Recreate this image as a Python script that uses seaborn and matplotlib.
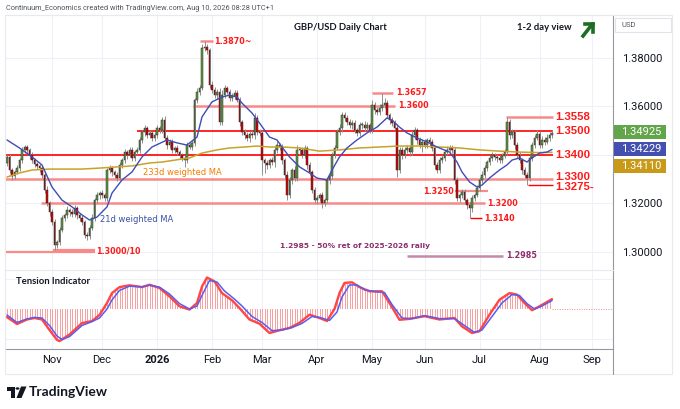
import numpy as np
import matplotlib
matplotlib.use("Agg")
import matplotlib.pyplot as plt
import seaborn as sns
from matplotlib.patches import Rectangle, Polygon, Circle
from matplotlib.lines import Line2D

# ---------------- data ----------------
first_open = 1.3365
closes = [
    1.3392, 1.3338, 1.3313, 1.3330, 1.3346, 1.3379, 1.3421, 1.3433, 1.3421, 1.3400,
    1.3379, 1.3363, 1.3355, 1.3346, 1.3318, 1.3256, 1.3202, 1.3165, 1.3124, 1.3029,
    1.3041, 1.3091, 1.3140, 1.3153, 1.3173, 1.3165, 1.3157, 1.3181, 1.3153, 1.3140,
    1.3124, 1.3070, 1.3066, 1.3099, 1.3140, 1.3214, 1.3235, 1.3243, 1.3235, 1.3223,
    1.3338, 1.3346, 1.3330, 1.3318, 1.3305, 1.3359, 1.3379, 1.3412, 1.3400, 1.3421,
    1.3388, 1.3412, 1.3421, 1.3462, 1.3495, 1.3511, 1.3482, 1.3491, 1.3470, 1.3482,
    1.3511, 1.3503, 1.3544, 1.3470, 1.3441, 1.3454, 1.3421, 1.3429, 1.3412, 1.3400,
    1.3388, 1.3379, 1.3441, 1.3433, 1.3450, 1.3627, 1.3660, 1.3676, 1.3841, 1.3845,
    1.3833, 1.3689, 1.3668, 1.3647, 1.3660, 1.3536, 1.3647, 1.3676, 1.3660, 1.3635,
    1.3643, 1.3656, 1.3627, 1.3536, 1.3495, 1.3482, 1.3470, 1.3487, 1.3482, 1.3553,
    1.3495, 1.3491, 1.3379, 1.3367, 1.3359, 1.3379, 1.3371, 1.3421, 1.3441, 1.3433,
    1.3379, 1.3318, 1.3235, 1.3297, 1.3338, 1.3305, 1.3421, 1.3421, 1.3400, 1.3429,
    1.3359, 1.3330, 1.3256, 1.3214, 1.3223, 1.3235, 1.3202, 1.3214, 1.3297, 1.3313,
    1.3400, 1.3429, 1.3495, 1.3511, 1.3565, 1.3553, 1.3536, 1.3524, 1.3532, 1.3503,
    1.3491, 1.3524, 1.3524, 1.3511, 1.3524, 1.3503, 1.3606, 1.3586, 1.3577, 1.3594,
    1.3606, 1.3614, 1.3565, 1.3544, 1.3532, 1.3511, 1.3338, 1.3421, 1.3400, 1.3421,
    1.3429, 1.3412, 1.3482, 1.3503, 1.3462, 1.3441, 1.3454, 1.3441, 1.3462, 1.3454,
    1.3429, 1.3359, 1.3338, 1.3379, 1.3388, 1.3412, 1.3421, 1.3429, 1.3421, 1.3297,
    1.3223, 1.3235, 1.3247, 1.3214, 1.3194, 1.3181, 1.3223, 1.3235, 1.3264, 1.3297,
    1.3318, 1.3346, 1.3371, 1.3388, 1.3400, 1.3392, 1.3388, 1.3379, 1.3396, 1.3412,
    1.3536, 1.3482, 1.3495, 1.3441, 1.3400, 1.3379, 1.3338, 1.3318, 1.3305, 1.3388,
    1.3441, 1.3470, 1.3487, 1.3441, 1.3462, 1.3454, 1.3470, 1.3482, 1.34925,
]
# wick lengths in pips
up_wick = [
    8, 12, 10, 9, 12, 10, 14, 8, 10, 9,
    12, 10, 8, 9, 10, 12, 15, 10, 14, 12,
    10, 12, 14, 9, 16, 10, 12, 14, 10, 8,
    12, 10, 14, 12, 16, 10, 14, 10, 12, 10,
    10, 12, 9, 10, 12, 14, 10, 12, 9, 14,
    12, 10, 14, 12, 10, 12, 10, 14, 10, 12,
    14, 10, 12, 15, 12, 10, 14, 10, 12, 10,
    10, 12, 14, 10, 12, 10, 16, 14, 18, 25,
    12, 10, 16, 14, 12, 18, 20, 12, 10, 14,
    12, 10, 14, 12, 10, 14, 12, 10, 12, 20,
    14, 12, 14, 10, 12, 10, 14, 12, 16, 10,
    12, 10, 14, 12, 10, 16, 20, 12, 10, 12,
    10, 12, 10, 14, 12, 10, 12, 10, 12, 14,
    12, 14, 12, 16, 14, 12, 10, 14, 12, 12,
    10, 14, 12, 16, 12, 10, 20, 14, 12, 16,
    51, 20, 12, 10, 14, 12, 16, 12, 10, 14,
    12, 10, 16, 12, 10, 14, 12, 14, 10, 12,
    12, 10, 14, 12, 10, 14, 16, 12, 14, 10,
    12, 10, 14, 12, 10, 12, 14, 10, 12, 12,
    14, 12, 10, 12, 14, 10, 12, 10, 12, 14,
    22, 14, 12, 10, 12, 14, 10, 12, 10, 16,
    12, 14, 16, 12, 18, 12, 16, 14, 12,
]
dn_wick = [
    10, 14, 16, 12, 10, 12, 10, 14, 12, 16,
    10, 14, 12, 16, 12, 14, 12, 16, 12, 19,
    14, 12, 10, 14, 12, 18, 14, 12, 16, 14,
    12, 14, 15, 12, 10, 14, 12, 16, 14, 12,
    14, 12, 16, 14, 12, 10, 14, 12, 16, 10,
    14, 12, 10, 14, 12, 16, 12, 10, 14, 12,
    10, 14, 12, 10, 16, 12, 14, 12, 10, 16,
    14, 28, 12, 10, 14, 12, 14, 12, 10, 14,
    16, 12, 14, 12, 18, 14, 12, 14, 10, 12,
    14, 12, 10, 16, 12, 14, 12, 16, 12, 14,
    12, 14, 60, 40, 16, 14, 12, 20, 14, 12,
    16, 14, 21, 14, 18, 12, 14, 16, 12, 14,
    16, 12, 14, 12, 16, 14, 21, 14, 12, 16,
    14, 12, 10, 14, 16, 12, 14, 12, 16, 14,
    14, 12, 16, 14, 12, 14, 12, 16, 14, 12,
    14, 12, 14, 16, 12, 14, 29, 14, 16, 12,
    14, 16, 12, 14, 16, 12, 28, 14, 12, 16,
    14, 16, 12, 14, 12, 14, 12, 10, 14, 16,
    14, 16, 12, 14, 16, 41, 14, 12, 10, 14,
    12, 14, 10, 12, 14, 12, 16, 14, 12, 10,
    12, 14, 12, 16, 14, 12, 16, 14, 30, 14,
    12, 14, 10, 14, 12, 14, 10, 12, 12,
]

# 21d weighted MA (bar index, value)
ma21_idx = [0, 5, 10, 14, 18, 22, 26, 30, 33, 36, 40, 42, 46, 50, 54, 58, 64, 68, 72, 76,
            78, 82, 86, 89, 92, 94, 98, 101, 105, 108, 110, 113, 117, 121, 124, 128, 130,
            133, 136, 140, 144, 148, 152, 154, 157, 160, 164, 168, 172, 177, 180, 182, 185,
            188, 190, 193, 197, 200, 202, 205, 208, 210, 213, 216, 218]
ma21_val = [1.3462, 1.3429, 1.3392, 1.3359, 1.3268, 1.3214, 1.3186, 1.3153, 1.3132, 1.3144,
            1.3186, 1.3243, 1.3297, 1.3330, 1.3392, 1.3433, 1.3462, 1.3450, 1.3441, 1.3474,
            1.3557, 1.3619, 1.3639, 1.3647, 1.3639, 1.3614, 1.3573, 1.3532, 1.3474, 1.3462,
            1.3433, 1.3392, 1.3351, 1.3326, 1.3305, 1.3297, 1.3338, 1.3392, 1.3429, 1.3462,
            1.3491, 1.3515, 1.3553, 1.3544, 1.3515, 1.3491, 1.3470, 1.3454, 1.3433, 1.3412,
            1.3371, 1.3330, 1.3289, 1.3268, 1.3276, 1.3305, 1.3338, 1.3359, 1.3379, 1.3388,
            1.3371, 1.3388, 1.3408, 1.3412, 1.34229]

# 233d weighted MA (bar index, value)
ma233_idx = [0, 5, 10, 17, 24, 30, 37, 44, 50, 57, 62, 73, 78, 84, 89, 95, 100, 105, 110,
             117, 125, 133, 141, 149, 157, 165, 173, 181, 189, 197, 205, 213, 218]
ma233_val = [1.3309, 1.3326, 1.3338, 1.3342, 1.3342, 1.3342, 1.3346, 1.3351, 1.3355, 1.3367,
             1.3371, 1.3388, 1.3408, 1.3421, 1.3429, 1.3433, 1.3437, 1.3433, 1.3433, 1.3429,
             1.3416, 1.3421, 1.3429, 1.3433, 1.3437, 1.3437, 1.3433, 1.3429, 1.3421, 1.3416,
             1.3412, 1.3410, 1.3411]

# Tension indicator
ten_red_idx = [0, 4, 8, 11, 14, 17, 20, 21, 25, 30, 34, 37, 40, 42, 45, 49, 54, 57, 61, 65,
               69, 73, 76, 78, 80, 83, 86, 90, 93, 97, 101, 105, 109, 113, 117, 121, 125, 128,
               131, 133, 135, 138, 141, 145, 150, 153, 157, 161, 167, 173, 179, 182, 186, 189,
               193, 197, 201, 204, 207, 210, 213, 218]
ten_red = [-0.27, -0.50, -0.35, -0.30, -0.35, -0.70, -1.03, -1.07, -0.85, -0.47, -0.40, -0.20,
           0.20, 0.53, 0.73, 0.79, 0.73, 0.81, 0.70, 0.42, 0.09, -0.02, 0.20, 0.75, 1.05, 0.92,
           0.53, 0.29, 0.03, -0.35, -0.49, -0.80, -0.71, -0.63, -0.46, -0.19, -0.30, -0.40,
           0.00, 0.53, 0.87, 0.89, 0.73, 0.59, 0.59, 0.20, -0.36, -0.33, -0.24, -0.35, -0.30,
           -0.58, -0.80, -0.74, -0.19, 0.31, 0.53, 0.48, 0.20, -0.04, 0.09, 0.33]
ten_blue_idx = [0, 4, 8, 11, 14, 17, 20, 22, 25, 30, 34, 37, 40, 42, 45, 49, 54, 57, 61, 65,
                69, 73, 76, 78, 81, 84, 87, 91, 94, 98, 102, 106, 110, 114, 118, 122, 125, 129,
                132, 134, 137, 140, 143, 147, 151, 154, 158, 162, 167, 173, 179, 183, 187, 190,
                194, 198, 202, 205, 208, 211, 214, 218]
ten_blue = [-0.20, -0.45, -0.33, -0.28, -0.30, -0.55, -0.90, -1.02, -0.92, -0.55, -0.42, -0.30,
            0.00, 0.30, 0.62, 0.76, 0.74, 0.79, 0.73, 0.50, 0.18, 0.00, 0.10, 0.45, 0.95, 0.90,
            0.60, 0.33, 0.10, -0.25, -0.45, -0.72, -0.70, -0.62, -0.48, -0.25, -0.28, -0.38,
            -0.10, 0.40, 0.80, 0.80, 0.64, 0.58, 0.55, 0.15, -0.30, -0.32, -0.22, -0.32, -0.32,
            -0.55, -0.78, -0.70, -0.25, 0.20, 0.48, 0.45, 0.18, 0.00, 0.10, 0.28]

month_labels = ["Nov", "Dec", "2026", "Feb", "Mar", "Apr", "May", "Jun", "Jul", "Aug", "Sep"]
month_idx = [18, 38, 60, 82, 102, 124, 146, 167, 189, 213, 234]
price_ticks = [1.30, 1.32, 1.34, 1.36, 1.38]
price_tick_labels = ["1.30000", "1.32000", "", "1.36000", "1.38000"]

last_price = 1.34925
ma21_last = 1.34229
ma233_last = 1.34110

# ---------------- figure ----------------
W, H = 680, 409
sns.set_theme(style="white")
plt.rcParams["font.family"] = ["Roboto", "DejaVu Sans"]

fig = plt.figure(figsize=(W / 100, H / 100), dpi=100)
fig.patch.set_facecolor("white")


def fx(x):
    return x / W


def fy(y):
    return 1 - y / H


def ix(px):
    return (px - 7) / 2.5


ax = fig.add_axes([fx(5), fy(270), (613 - 5) / W, (270 - 15) / H])
ax2 = fig.add_axes([fx(5), fy(349), (613 - 5) / W, (349 - 270) / H], sharex=ax)
for a in (ax, ax2):
    a.set_facecolor("white")

XMIN, XMAX = ix(5), ix(613)
ax.set_xlim(XMIN, XMAX)
ax.set_ylim(1.38 - (270 - 58) / 2425, 1.38 + (58 - 15) / 2425)
ax2.set_ylim(-(349 - 309) / 30, (309 - 270) / 30)

# grid & ticks
ax.set_xticks(month_idx)
ax.set_yticks(price_ticks, labels=price_tick_labels)
ax.grid(True, color="#eef1f7", lw=0.8)
ax.yaxis.tick_right()
ax.tick_params(axis="y", length=0, pad=6.5, labelsize=8, labelcolor="#131722")
ax.tick_params(axis="x", length=0, labelbottom=False)
ax2.set_yticks([-1, 1])
ax2.set_yticklabels([])
ax2.grid(True, color="#eef1f7", lw=0.8)
ax2.tick_params(axis="y", length=0, labelright=False, labelleft=False)
ax2.set_xticks(month_idx, labels=month_labels)
ax2.tick_params(axis="x", length=0, pad=4, labelsize=8, labelcolor="#131722")
for lbl in ax2.get_xticklabels():
    if lbl.get_text() == "2026":
        lbl.set_fontweight("bold")

for s in ("left", "top", "bottom"):
    ax.spines[s].set_visible(False)
ax.spines["right"].set_color("#9598a1")
ax.spines["right"].set_linewidth(0.8)
ax2.spines["left"].set_visible(False)
ax2.spines["top"].set_color("#e6e9f0")
ax2.spines["top"].set_linewidth(0.8)
for s in ("right", "bottom"):
    ax2.spines[s].set_color("#9598a1")
    ax2.spines[s].set_linewidth(0.8)

# ---------------- candles ----------------
close = np.array(closes)
open_ = np.concatenate([[first_open], close[:-1]])
hi = np.maximum(open_, close) + np.array(up_wick) / 1e4
lo = np.minimum(open_, close) - np.array(dn_wick) / 1e4
idx = np.arange(len(close))
up = close >= open_
body_bot = np.minimum(open_, close)
body_h = np.maximum(np.abs(close - open_), 0.0003)
ax.vlines(idx, lo, hi, color="#8f8f8f", lw=0.7, zorder=3)
ax.bar(idx, body_h, bottom=body_bot, width=0.72,
       color=np.where(up, "#5f9a40", "#d40000"), edgecolor="#2a2a2a",
       linewidth=0.35, zorder=4)

# moving averages
sns.lineplot(x=ma233_idx, y=ma233_val, ax=ax, color="#c9a227", lw=1.1,
             estimator=None, legend=False, zorder=5)
sns.lineplot(x=ma21_idx, y=ma21_val, ax=ax, color="#3f4db5", lw=1.0,
             estimator=None, legend=False, zorder=5)

# ---------------- levels ----------------
BR = "#ff0000"
LR = "#f88a8a"


def seg(p, x0, x1, color, lw):
    ax.plot([ix(x0), ix(x1)], [p, p], color=color, lw=lw, zorder=2, solid_capstyle="butt")


seg(1.3500, 137, 553, BR, 1.2)
seg(1.3400, 5, 553, BR, 1.2)
seg(1.3300, 5, 553, LR, 1.8)
seg(1.3200, 41, 485, LR, 1.8)
seg(1.3600, 193, 395, LR, 1.8)
seg(1.3000, 5, 95, LR, 1.6)
seg(1.3010, 53, 95, LR, 1.6)
seg(1.3870, 200, 213, LR, 1.8)
seg(1.3657, 372, 393, LR, 1.8)
seg(1.3558, 506, 553, LR, 1.8)
seg(1.3275, 528, 553, BR, 1.0)
seg(1.3250, 455, 488, LR, 1.6)
seg(1.3140, 470, 482, BR, 1.0)
seg(1.2985, 407, 503, "#c48aa8", 1.8)

RT = "#ff1a1a"
big = dict(color=RT, fontsize=8.2, fontweight="bold", family="Liberation Sans", va="center", zorder=6)
small = dict(color=RT, fontsize=5.8, fontweight="bold", family="DejaVu Sans", va="center", zorder=6)
for lab, p in [("1.3558", 1.3558), ("1.3500", 1.3500), ("1.3400", 1.3400),
               ("1.3300", 1.3310), ("1.3275-", 1.3266)]:
    ax.text(ix(555), p, lab, **big)
ax.text(ix(214), 1.3870, "1.3870~", **small)
ax.text(ix(396), 1.3657, "1.3657", **small)
ax.text(ix(398), 1.3603, "1.3600", **small)
ax.text(ix(454), 1.3250, "1.3250", ha="right", **small)
ax.text(ix(487), 1.3200, "1.3200", **small)
ax.text(ix(484), 1.3140, "1.3140", **small)
ax.text(ix(96), 1.3005, "1.3000/10", **small)
PUR = "#8f2d6b"
ax.text(ix(280), 1.3024, "1.2985 - 50% ret of 2025-2026 rally", color=PUR, fontsize=5.4,
        fontweight="bold", family="DejaVu Sans", va="center", zorder=6)
ax.text(ix(506), 1.2987, "1.2985", color=PUR, fontsize=5.8, fontweight="bold",
        family="DejaVu Sans", va="center", zorder=6)
ax.text(ix(143), 1.3326, "233d weighted MA", color="#f57c00", fontsize=6,
        family="DejaVu Sans", va="center", zorder=6)
ax.text(ix(100), 1.3136, "21d weighted MA", color="#3a4fa5", fontsize=6,
        family="DejaVu Sans", va="center", zorder=6)

# ---------------- tension indicator ----------------
area = ax2.fill_between(ten_red_idx, 0, ten_red, facecolor="none", edgecolor="none",
                        linewidth=0)
stripes = ax2.vlines(np.arange(0, len(closes)), -1.4, 1.4, color="#f7a0a0", lw=0.7, zorder=2)
stripes.set_clip_path(area.get_paths()[0], ax2.transData)
sns.lineplot(x=ten_red_idx, y=ten_red, ax=ax2, color="#ff4545", lw=1.7,
             estimator=None, legend=False, zorder=3)
sns.lineplot(x=ten_blue_idx, y=ten_blue, ax=ax2, color="#5a5cf0", lw=1.1,
             estimator=None, legend=False, zorder=4)
ax2.plot([ten_red_idx[-1], XMAX], [0, 0], ls=(0, (1, 1.5)), color="#f08a8a", lw=0.7)
ax2.text(ix(16), (309 - 281) / 30, "Tension Indicator", fontsize=6.8, fontweight="bold",
         family="Lato", color="#131722", va="center")
ax.set_xlim(XMIN, XMAX)

# ---------------- figure decorations ----------------
fig.text(fx(6), fy(8), "Continuum_Economics created with TradingView.com, Aug 10, 2026 08:28 UTC+1",
         fontsize=5.3, color="#50535e", va="center", family="Roboto")
fig.text(fx(340), fy(27), "GBP/USD Daily Chart", fontsize=6.8, fontweight="bold",
         family="Lato", color="#131722", ha="center", va="center")
fig.text(fx(517), fy(27), "1-2 day view", fontsize=6.8, fontweight="bold",
         family="Lato", color="#131722", va="center")
GREEN = "#1b6e22"
for (x0, y0), (x1, y1) in [((583, 36), (592, 24.5)), ((585, 24), (593, 24)),
                           ((593, 24), (593, 32))]:
    fig.add_artist(Line2D([fx(x0), fx(x1)], [fy(y0), fy(y1)], transform=fig.transFigure,
                          color=GREEN, lw=2.6, solid_capstyle="projecting"))

# outer frame and right panel
fig.add_artist(Rectangle((fx(5), fy(374)), (672 - 5) / W, (374 - 15) / H, transform=fig.transFigure,
                         fill=False, edgecolor="#e6e9f0", lw=0.8))
fig.add_artist(Line2D([fx(613), fx(613)], [fy(349), fy(374)], transform=fig.transFigure,
                      color="#9598a1", lw=0.8))
fig.add_artist(Rectangle((fx(615), fy(32)), (671 - 615) / W, 14 / H, transform=fig.transFigure,
                         facecolor="white", edgecolor="#e0e3eb", lw=0.8))
fig.text(fx(622), fy(25), "USD", fontsize=5.5, color="#50535e", va="center")

for val, col, ytop in [(last_price, "#63a54a", 125), (ma21_last, "#4450b0", 142),
                       (ma233_last, "#c99a1a", 159)]:
    fig.add_artist(Rectangle((fx(614), fy(ytop + 14)), (666 - 614) / W, 14 / H,
                             transform=fig.transFigure, facecolor=col, edgecolor="none"))
    fig.text(fx(621), fy(ytop + 7), f"{val:.5f}", fontsize=8, color="white", va="center")

# TradingView logo
K = "#131722"
fig.add_artist(Polygon([(fx(7), fy(386.5)), (fx(15), fy(386.5)), (fx(15), fy(398)),
                        (fx(11), fy(398)), (fx(11), fy(390.5)), (fx(7), fy(390.5))],
                       closed=True, transform=fig.transFigure, facecolor=K, edgecolor="none"))
fig.add_artist(Circle((fx(17.5), fy(388.5)), 2.0 / W, transform=fig.transFigure,
                      facecolor=K, edgecolor="none"))
fig.add_artist(Polygon([(fx(21), fy(386.5)), (fx(26.5), fy(386.5)), (fx(21.5), fy(398)),
                        (fx(16.5), fy(398))], closed=True, transform=fig.transFigure,
                       facecolor=K, edgecolor="none"))
fig.text(fx(29), fy(392), "TradingView", fontsize=10, fontweight="bold", family="Lato",
         color=K, va="center")

fig.savefig("out.png", dpi=100, facecolor="white")
